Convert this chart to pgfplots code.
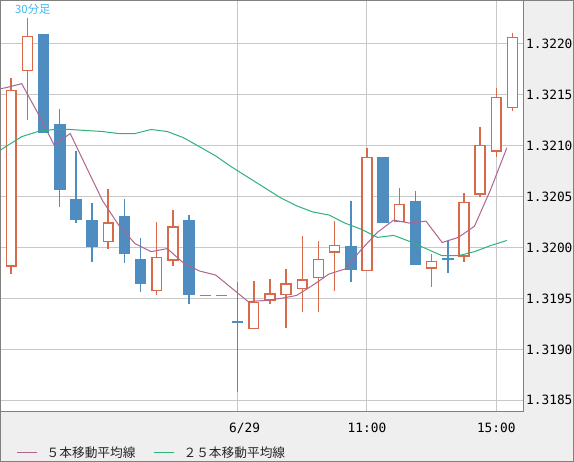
\documentclass[border=0pt]{standalone}
\usepackage{pgfplots}
\pgfplotsset{compat=1.18}
\usepackage{pgfplotstable}
\usepackage{fontspec}
\setmainfont{DejaVu Sans}
\setmonofont{DejaVu Sans Mono}
\newfontfamily\cjk{Noto Sans CJK JP}
\definecolor{cRed}{HTML}{D8694B}
\definecolor{cBlue}{HTML}{4F8CBF}
\definecolor{cPurple}{HTML}{B0648E}
\definecolor{cGreen}{HTML}{2FB27A}
\definecolor{cCyan}{HTML}{40B8EA}
\definecolor{bgGray}{HTML}{EFEFEF}
\definecolor{gridGray}{HTML}{C8C8C8}
\definecolor{frameGray}{HTML}{808080}

% rising 30-minute candles: index, open, high, low, close
\pgfplotstableread{
i O H L C
0 1.31981 1.32167 1.31974 1.32155
1 1.32173 1.32226 1.32125 1.32208
6 1.32005 1.32058 1.31999 1.32025
9 1.31957 1.32025 1.31953 1.31991
10 1.31987 1.32037 1.31982 1.32021
15 1.31920 1.31967 1.31920 1.31947
16 1.31948 1.31969 1.31945 1.31955
17 1.31953 1.31979 1.31921 1.31965
18 1.31959 1.32011 1.31937 1.31969
19 1.31970 1.32006 1.31937 1.31989
20 1.31995 1.32026 1.31957 1.32003
22 1.31977 1.32098 1.31977 1.32089
24 1.32025 1.32059 1.32025 1.32043
26 1.31979 1.31994 1.31961 1.31987
28 1.31991 1.32054 1.31986 1.32045
29 1.32052 1.32118 1.32050 1.32101
30 1.32094 1.32157 1.32089 1.32148
31 1.32137 1.32211 1.32134 1.32207
}\upcandles

% falling candles
\pgfplotstableread{
i O H L C
2 1.32210 1.32210 1.32113 1.32113
3 1.32121 1.32136 1.32040 1.32057
4 1.32048 1.32095 1.32024 1.32027
5 1.32027 1.32044 1.31986 1.32001
7 1.32031 1.32048 1.31985 1.31994
8 1.31989 1.32009 1.31956 1.31964
11 1.32027 1.32032 1.31945 1.31953
14 1.31928 1.31966 1.31858 1.31926
21 1.32002 1.32046 1.31966 1.31978
23 1.32089 1.32089 1.32024 1.32024
25 1.32046 1.32056 1.31983 1.31983
27 1.31990 1.32006 1.31975 1.31988
}\downcandles

% candles with no range (open = high = low = close)
\pgfplotstableread{
i P
12 1.31953
13 1.31953
}\flatcandles

% 5-bar moving average
\pgfplotstableread{
x v
-1.35 1.32154
-0.35 1.32157
0.65 1.32161
1.65 1.32132
2.65 1.32101
3.65 1.32112
4.65 1.32079
5.65 1.32046
6.65 1.32022
7.65 1.32004
8.65 1.31996
9.65 1.31999
10.65 1.31985
11.65 1.31977
12.65 1.31973
13.65 1.31960
14.65 1.31947
15.65 1.31948
16.65 1.31950
17.65 1.31953
18.65 1.31963
19.65 1.31974
20.65 1.31979
21.65 1.31998
22.65 1.32015
23.65 1.32027
24.65 1.32024
25.65 1.32026
26.65 1.32005
27.65 1.32010
28.65 1.32021
29.65 1.32057
30.65 1.32098
}\maFive

% 25-bar moving average
\pgfplotstableread{
x v
-1.35 1.32089
-0.35 1.32099
0.65 1.32109
1.65 1.32114
2.65 1.32116
3.65 1.32116
4.65 1.32115
5.65 1.32114
6.65 1.32112
7.65 1.32112
8.65 1.32116
9.65 1.32114
10.65 1.32108
11.65 1.32099
12.65 1.32090
13.65 1.32079
14.65 1.32069
15.65 1.32059
16.65 1.32049
17.65 1.32041
18.65 1.32035
19.65 1.32032
20.65 1.32024
21.65 1.32018
22.65 1.32010
23.65 1.32012
24.65 1.32006
25.65 1.31999
26.65 1.31992
27.65 1.31992
28.65 1.31996
29.65 1.32002
30.65 1.32007
}\maTwentyFive

\pgfplotsset{
  candlepart/.style n args={2}{forget plot, draw=none, mark=none,
    error bars/.cd, y dir=minus, y explicit, error mark=none,
    error bar style={draw=#1, solid, #2}},
}

\begin{document}
\begin{tikzpicture}[x=1pt,y=1pt]
\fill[bgGray] (0,0) rectangle (574,462);
\useasboundingbox (0,0) rectangle (574,462);
\begin{axis}[
  at={(0.5pt,50pt)}, anchor=south west,
  scale only axis, width=522.5pt, height=411.5pt,
  xmin=-0.662, xmax=31.651, ymin=1.3183851, ymax=1.3224272,
  axis background/.style={fill=white},
  axis line style={draw=frameGray, line width=1pt},
  xtick={14,22,30}, xticklabels={\hspace*{14pt}6/29,11:00,15:00},
  ytick={1.3185,1.319,1.3195,1.32,1.3205,1.321,1.3215,1.322},
  yticklabels={1.3185,1.3190,1.3195,1.3200,1.3205,1.3210,1.3215,1.3220},
  yticklabel pos=right,
  major tick length=0pt,
  grid=major, major grid style={draw=gridGray, line width=1pt},
  /pgf/number format/assume math mode=true,
  tick label style={font=\ttfamily\fontsize{12.8}{13}\selectfont, text=black, inner sep=0pt},
  xticklabel style={anchor=north, yshift=-11pt},
  yticklabel style={anchor=west, xshift=3pt},
  legend style={at={(0.0306,-0.0989)}, anchor=west, draw=none, fill=none,
    inner sep=0pt, legend columns=-1, text=black!85,
    font=\cjk\fontsize{12.7}{13}\selectfont,
    nodes={inner sep=0pt},
    /tikz/every odd column/.append style={column sep=9pt},
    /tikz/every even column/.append style={column sep=18pt}},
  legend image code/.code={\draw[#1, line width=1pt] (0pt,0pt) -- (20pt,0pt);},
]
% wicks (high to low)
\addplot[candlepart={cRed}{line width=1.5pt}]
  table[x=i, y=H, y error minus expr=\thisrow{H}-\thisrow{L}] {\upcandles};
\addplot[candlepart={cBlue}{line width=1.5pt}]
  table[x=i, y=H, y error minus expr=\thisrow{H}-\thisrow{L}] {\downcandles};
% rising bodies: red outline, white inside
\addplot[candlepart={cRed}{line width=11.3pt}]
  table[x=i, y=C, y error minus expr=\thisrow{C}-\thisrow{O}] {\upcandles};
\addplot[candlepart={white}{line width=8.3pt, shorten <=1.5pt, shorten >=1.5pt}]
  table[x=i, y=C, y error minus expr=\thisrow{C}-\thisrow{O}] {\upcandles};
% falling bodies: filled blue
\addplot[candlepart={cBlue}{line width=11.7pt}]
  table[x=i, y=O, y error minus expr=\thisrow{O}-\thisrow{C}] {\downcandles};
% flat candles
\addplot[forget plot, draw=none, mark=none,
  error bars/.cd, x dir=both, x fixed=0.35, error mark=none,
  error bar style={draw=cRed, solid, line width=1.5pt}]
  table[x=i, y=P] {\flatcandles};
% moving averages
\addplot[cPurple, line width=1pt, mark=none] table[x=x, y=v] {\maFive};
\addlegendentry{５本移動平均線}
\addplot[cGreen, line width=1pt, mark=none] table[x=x, y=v] {\maTwentyFive};
\addlegendentry{２５本移動平均線}
\node[anchor=west, inner sep=0pt, text=cCyan, font=\cjk\fontsize{11.3}{12}\selectfont]
  at (rel axis cs:0.0278,0.978) {30分足};
\end{axis}
\draw[frameGray, line width=1pt] (0.5,0.5) rectangle (573.5,461.5);
\end{tikzpicture}
\end{document}
